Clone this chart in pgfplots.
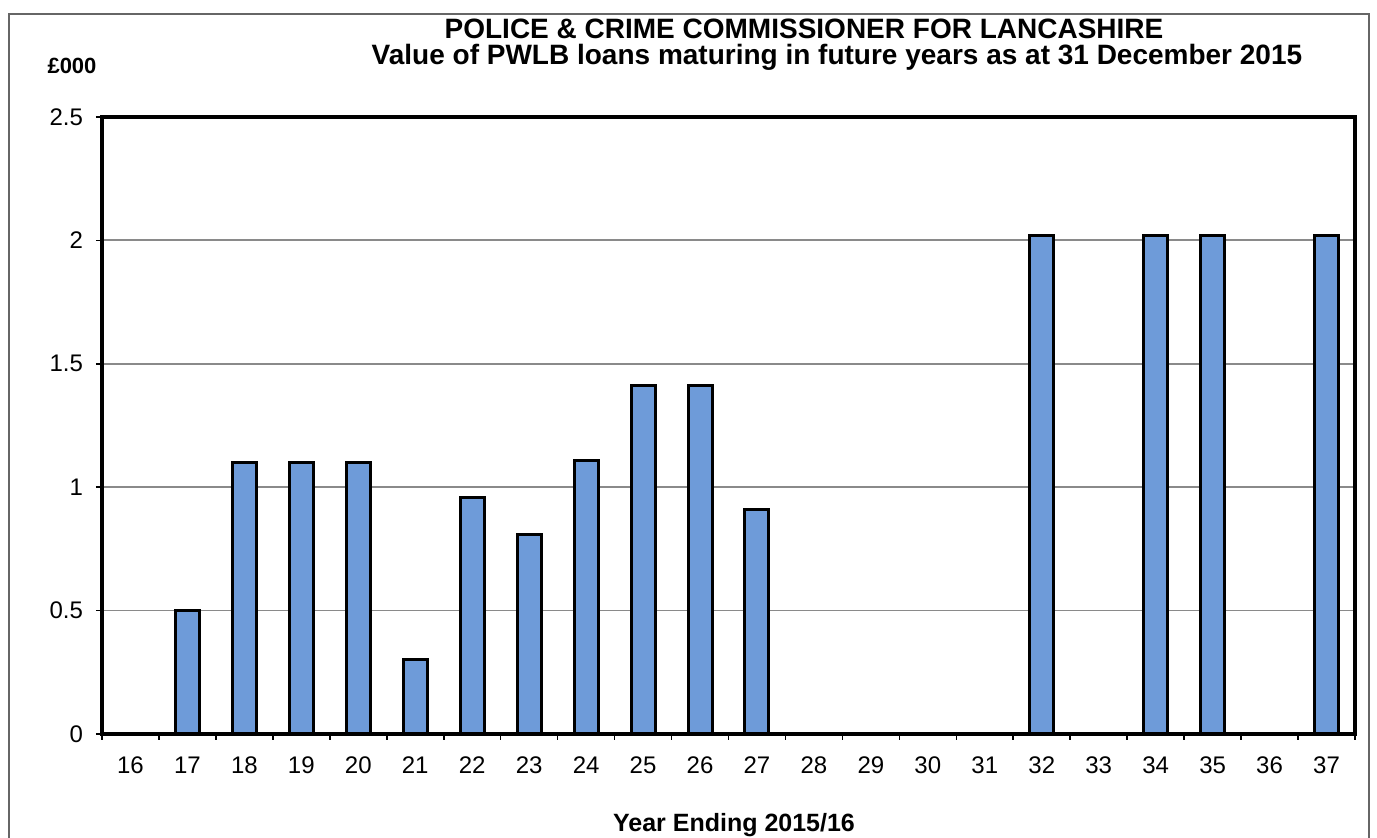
\documentclass[border=0pt]{standalone}
\usepackage{fontspec}
\setmainfont{Liberation Sans}
\usepackage{pgfplots}
\pgfplotsset{compat=1.18}
\definecolor{barblue}{HTML}{6E9BD9}
\definecolor{gridgray}{HTML}{8A8A8A}
\begin{document}
\begin{tikzpicture}
\begin{axis}[
  at={(51pt,52pt)}, anchor=south west,
  scale only axis, width=626.5pt, height=308.5pt,
  ymin=0, ymax=2.5, xmin=-0.5, xmax=21.5,
  ybar, bar width=12pt,
  axis line style={black, line width=1.7pt},
  ymajorgrids, major grid style={gridgray, line width=0.9pt},
  ytick={0,0.5,1,1.5,2,2.5},
  yticklabels={0,0.5,1,1.5,2,2.5},
  xtick={-0.5,0.5,...,21.5},
  xticklabels={16,17,18,19,20,21,22,23,24,25,26,27,28,29,30,31,32,33,34,35,36,37},
  x tick label as interval,
  xtick pos=bottom, ytick pos=left,
  tick align=outside,
  major tick length=3pt,
  tick style={black, line width=0.8pt},
  /pgf/number format/assume math mode=true,
  ticklabel style={font=\fontsize{12}{14}\selectfont},
  xticklabel style={yshift=-5pt},
  yticklabel style={xshift=-3pt},
  clip=false,
]
\addplot[fill=barblue, draw=black, line width=1.5pt] coordinates {
  (1,0.5) (2,1.1) (3,1.1) (4,1.1) (5,0.3) (6,0.96) (7,0.81) (8,1.11)
  (9,1.41) (10,1.41) (11,0.91) (16,2.02) (18,2.02) (19,2.02) (21,2.02)
};
\end{axis}
\node[anchor=base, inner sep=0pt, font=\bfseries\fontsize{14}{16}\selectfont] at (402pt,399.5pt) {POLICE \& CRIME COMMISSIONER FOR LANCASHIRE};
\node[anchor=base, inner sep=0pt, font=\bfseries\fontsize{14}{16}\selectfont] at (418.5pt,386.5pt) {Value of PWLB loans maturing in future years as at 31 December 2015};
\node[font=\bfseries\fontsize{11}{13}\selectfont] at (36pt,386pt) {£000};
\node[font=\bfseries\fontsize{12.5}{14}\selectfont] at (367pt,6.5pt) {Year Ending 2015/16};
\draw[gray!80!black, line width=1pt] (4.5pt,-5pt) -- (4.5pt,412pt) -- (684.5pt,412pt) -- (684.5pt,-5pt);
\pgfresetboundingbox
\useasboundingbox (0,0) rectangle (688.5pt,419pt);
\end{tikzpicture}
\end{document}
